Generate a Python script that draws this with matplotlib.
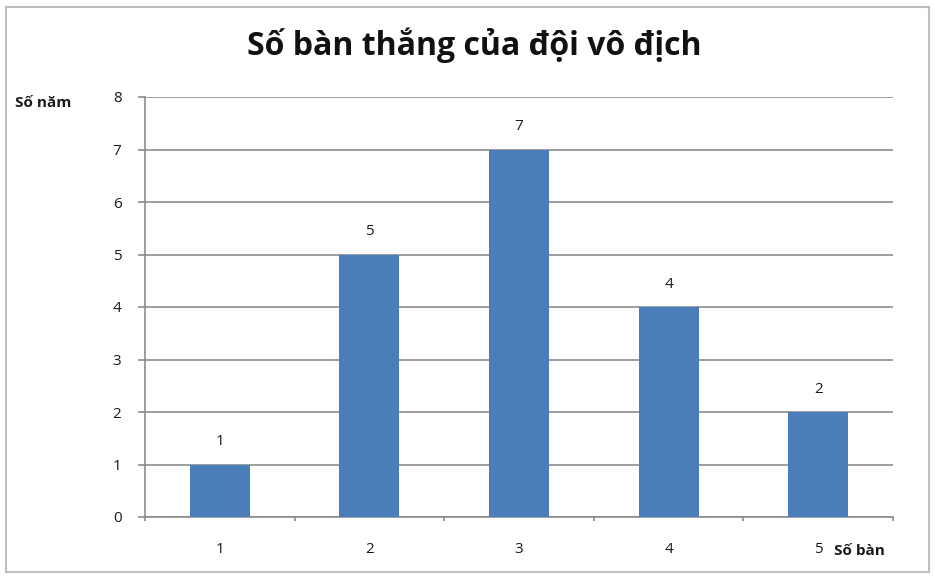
import matplotlib.pyplot as plt
from matplotlib.patches import Rectangle

goals = [1, 2, 3, 4, 5]
years = [1, 5, 7, 4, 2]
y_ticks = [0, 1, 2, 3, 4, 5, 6, 7, 8]

plt.rcParams['font.family'] = ['Open Sans', 'DejaVu Sans']

fig = plt.figure(figsize=(9.35, 5.77), dpi=100)
ax = fig.add_axes([145 / 935, 60 / 577, 748 / 935, 420 / 577])

grid_color = '#8c8c8c'
bar_color = '#4a7ebb'

ax.bar(goals, years, width=0.4, color=bar_color, zorder=3)
for g, v in zip(goals, years):
    ax.annotate(str(v), (g, v), xytext=(0, 11), textcoords='offset points',
                ha='center', va='bottom', fontsize=11, color='#1a1a1a')

ax.set_xlim(0.5, 5.5)
ax.set_ylim(0, 8)
ax.set_yticks(y_ticks)
ax.set_xticks(goals)
ax.set_xticks([0.5, 1.5, 2.5, 3.5, 4.5, 5.5], minor=True)
ax.yaxis.grid(True, color=grid_color, linewidth=1.2, zorder=0)
ax.set_axisbelow(True)

for s in ['top', 'right']:
    ax.spines[s].set_visible(False)
ax.spines['left'].set_color(grid_color)
ax.spines['bottom'].set_color(grid_color)
ax.spines['left'].set_linewidth(1.2)
ax.spines['bottom'].set_linewidth(1.2)

ax.tick_params(axis='y', colors=grid_color, length=5, width=1.2, labelcolor='#1a1a1a',
               labelsize=11, pad=12)
ax.tick_params(axis='x', which='major', length=0, labelcolor='#1a1a1a', labelsize=11, pad=18)
ax.tick_params(axis='x', which='minor', length=3, width=1.2, colors=grid_color)

fig.text(474 / 935, 1 - 45 / 577, 'Số bàn thắng của đội vô địch', ha='center', va='center',
         fontsize=23, fontweight='bold', color='#111111')
fig.text(15 / 935, 1 - 103 / 577, 'Số năm', ha='left', va='center',
         fontsize=11, fontweight='bold', color='#1a1a1a')
fig.text(834 / 935, 1 - 551 / 577, 'Số bàn', ha='left', va='center',
         fontsize=11, fontweight='bold', color='#1a1a1a')

fig.patches.append(Rectangle((6 / 935, 5 / 577), 923 / 935, 565 / 577, transform=fig.transFigure,
                             fill=False, edgecolor='#bfbfbf', linewidth=1.5))

fig.savefig('out.png', dpi=100)
